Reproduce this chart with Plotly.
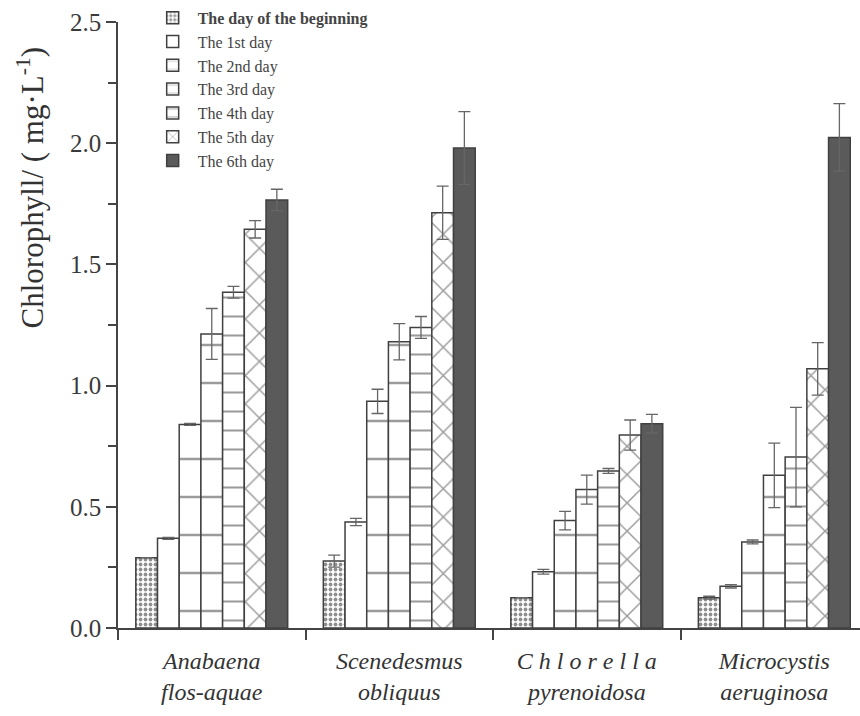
import plotly.graph_objects as go

species = ["<i>Anabaena</i><br><i>flos-aquae</i>",
           "<i>Scenedesmus</i><br><i>obliquus</i>",
           "<i>C h l o r e l l a</i><br><i>pyrenoidosa</i>",
           "<i>Microcystis</i><br><i>aeruginosa</i>"]

day_names = ["<b>The day of the beginning</b>", "The 1st day", "The 2nd day",
             "The 3rd day", "The 4th day", "The 5th day", "The 6th day"]

day0 = [0.29, 0.276, 0.125, 0.125]
day1 = [0.37, 0.437, 0.232, 0.172]
day2 = [0.84, 0.935, 0.443, 0.355]
day3 = [1.213, 1.181, 0.571, 0.630]
day4 = [1.385, 1.240, 0.648, 0.705]
day5 = [1.645, 1.713, 0.796, 1.069]
day6 = [1.766, 1.980, 0.843, 2.024]

err0 = [0.0, 0.025, 0.0, 0.006]
err1 = [0.004, 0.015, 0.010, 0.007]
err2 = [0.004, 0.050, 0.038, 0.008]
err3 = [0.105, 0.075, 0.060, 0.133]
err4 = [0.024, 0.045, 0.010, 0.205]
err5 = [0.036, 0.110, 0.062, 0.108]
err6 = [0.044, 0.150, 0.038, 0.139]

values = [day0, day1, day2, day3, day4, day5, day6]
errors = [err0, err1, err2, err3, err4, err5, err6]

edge = "#404040"
patterns = [
    dict(shape=".", fgcolor="#202020", bgcolor="white", size=5, solidity=0.45),
    dict(shape="", bgcolor="white"),
    dict(shape="-", fgcolor="#383838", bgcolor="white", size=38, solidity=0.06),
    dict(shape="-", fgcolor="#383838", bgcolor="white", size=38, solidity=0.07),
    dict(shape="-", fgcolor="#383838", bgcolor="white", size=19, solidity=0.11),
    dict(shape="x", fgcolor="#383838", bgcolor="white", size=20, solidity=0.14),
    dict(shape=""),
]
fills = ["white"] * 6 + ["#5a5a5a"]

fig = go.Figure()
for name, v, e, pat, fc in zip(day_names, values, errors, patterns, fills):
    fig.add_trace(go.Bar(
        x=species, y=v, name=name,
        marker=dict(color=fc, pattern=pat, line=dict(color=edge, width=1.5)),
        error_y=dict(type="data", array=e, symmetric=True, color="#666666",
                     thickness=1.3, width=6),
    ))

serif = "Liberation Serif, Times New Roman, serif"
fig.update_layout(
    width=860, height=716,
    margin=dict(l=118, r=0, t=22, b=88),
    paper_bgcolor="white", plot_bgcolor="white",
    barmode="group", bargap=0.19, bargroupgap=0,
    font=dict(family=serif, color="#3a3a3a"),
    showlegend=True,
    legend=dict(x=0.04, y=1.035, xanchor="left", yanchor="top",
                bgcolor="rgba(0,0,0,0)", font=dict(size=16, color="#444444"),
                itemwidth=40),
    xaxis=dict(range=[-0.5, 3.457], showline=True, linecolor="#444444",
               linewidth=1.5, ticks="outside", tickson="boundaries",
               ticklen=10, tickcolor="#444444", tickwidth=1.5,
               ticklabelstandoff=10,
               tickfont=dict(size=24, color="#333333"), showgrid=False),
    yaxis=dict(range=[0, 2.5], showline=True, linecolor="#444444",
               linewidth=1.5, ticks="outside", ticklen=10, tickwidth=1.5,
               tickcolor="#444444", dtick=0.5, tickformat=".1f",
               tickfont=dict(size=25, color="#3a3a3a"), showgrid=False,
               zeroline=False,
               minor=dict(dtick=0.25, ticks="outside", ticklen=8,
                          tickcolor="#444444", tickwidth=1.5)),
    annotations=[dict(
        text="Chlorophyll/ ( mg·L<sup>-1</sup>)", textangle=-90,
        xref="paper", yref="paper", x=0, y=0.727, xanchor="center",
        yanchor="middle", xshift=-88, showarrow=False,
        font=dict(size=31, color="#333333", family=serif))],
)

fig.write_html("out.html")
